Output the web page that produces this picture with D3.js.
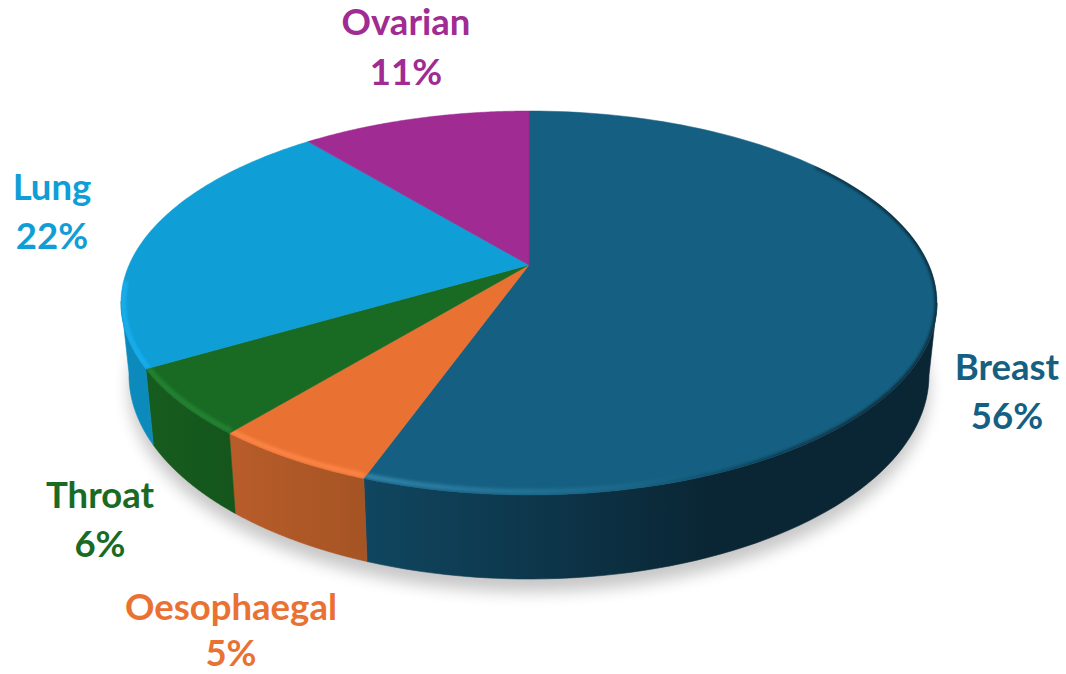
<!DOCTYPE html>
<html>
<head>
<meta charset="utf-8">
<script src="https://cdnjs.cloudflare.com/ajax/libs/d3/7.8.5/d3.min.js"></script>
<style>
html,body{margin:0;padding:0;background:#fff}
svg{display:block}
text{font-family:Lato,"Open Sans",sans-serif;font-weight:700}
</style>
</head>
<body>
<svg id="chart" width="1066" height="674"></svg>
<script>
// ---- data ----
const categories = ["Breast", "Oesophaegal", "Throat", "Lung", "Ovarian"];
const shares = [55.5, 5.49, 5.6, 22.49, 11.0];

// ---- style ----
const faceColors = ["#156082", "#E97132", "#196B24", "#0F9ED5", "#A02B93"];
const wallLeft = ["#104660", "#B85C2A", "#175C1F", "#0F8FC4", "#7a2070"];
const wallRight = ["#0A2533", "#A65424", "#14561C", "#0C8ABC", "#7a2070"];
const rimLight = ["#2F83A9", "#FB8444", "#238232", "#14ADEE", "#A02B93"];
const labelAt = [[1007, 380, 429], [231, 620, 666], [100, 508, 557], [52, 200, 249], [406, 35, 85]];

const W = 1066, H = 674;
const svg = d3.select("#chart");
const defs = svg.append("defs");

// perspective disc: unit circle mapped on itself so that the hub moves towards the back
const K = -0.198;
const project = (a, r) => {
  const u = r * Math.sin(a), v = -r * Math.cos(a), d = 1 + K * v;
  return [u * Math.sqrt(1 - K * K) / d, (v + K) / d];
};
const topX = d3.scaleLinear().domain([-1, 1]).range([121, 937]);
const topY = d3.scaleLinear().domain([-1, 1]).range([111, 495]);
const botX = d3.scaleLinear().domain([-1, 1]).range([129, 929]);
const botY = d3.scaleLinear().domain([-1, 1]).range([171, 579]);
const onTop = (a, r = 1) => { const p = project(a, r); return [topX(p[0]), topY(p[1])]; };
const onBot = (a, r = 1) => { const p = project(a, r); return [botX(p[0]), botY(p[1])]; };
// a point on the bevel: pulled in more vertically than horizontally
const onBevel = (a, sx, sy) => { const p = project(a, 1); return [topX(p[0] * sx), topY(p[1] * sy)]; };
const line = d3.line();
const steps = (a0, a1) => d3.range(0, 121).map(i => a0 + (a1 - a0) * i / 120);

const arcs = d3.pie().sort(null).value(d => d)(shares);

function blur(id, dev) {
  defs.append("filter").attr("id", id).attr("filterUnits", "userSpaceOnUse")
    .attr("x", 0).attr("y", 0).attr("width", W).attr("height", H)
    .append("feGaussianBlur").attr("stdDeviation", dev);
}
blur("soft", 8);
blur("b1", 1.5);
blur("b2", 1.8);

// ground shadow
svg.append("path")
  .attr("d", line(steps(0, 2 * Math.PI).map(a => { const p = onBot(a); return [p[0], p[1] + 13]; })) + "Z")
  .attr("fill", "#000").attr("opacity", 0.22).attr("filter", "url(#soft)");

// walls (front half of the disc only)
const g = svg.append("g");
arcs.forEach((d, i) => {
  const gid = "wall" + i;
  const lg = defs.append("linearGradient").attr("id", gid).attr("gradientUnits", "userSpaceOnUse")
    .attr("x1", i === 0 ? 365 : onTop(d.endAngle)[0]).attr("x2", i === 0 ? 720 : onTop(d.startAngle)[0])
    .attr("y1", 0).attr("y2", 0);
  lg.append("stop").attr("offset", 0).attr("stop-color", wallLeft[i]);
  lg.append("stop").attr("offset", 1).attr("stop-color", wallRight[i]);
  const angles = steps(d.startAngle, d.endAngle).filter(a => project(a, 1)[1] >= -0.01);
  if (angles.length < 2) return;
  const pts = angles.map(a => onTop(a)).concat(angles.slice().reverse().map(a => onBot(a)));
  g.append("path").attr("d", line(pts) + "Z").attr("fill", `url(#${gid})`)
    .attr("stroke", `url(#${gid})`).attr("stroke-width", 0.6);
});

// shaded edge of the largest slice: fades out along x towards the lit front
const darkGrad = defs.append("linearGradient").attr("id", "darkEdge").attr("gradientUnits", "userSpaceOnUse")
  .attr("x1", 640).attr("x2", 860).attr("y1", 0).attr("y2", 0);
darkGrad.append("stop").attr("offset", 0).attr("stop-color", "#0A2533").attr("stop-opacity", 0);
darkGrad.append("stop").attr("offset", 1).attr("stop-color", "#0A2533").attr("stop-opacity", 1);

// top faces with bevel
arcs.forEach((d, i) => {
  const rim = steps(d.startAngle, d.endAngle);
  const facePts = [onTop(0, 0)].concat(rim.map(a => onTop(a)));
  const facePath = line(facePts) + "Z";
  defs.append("clipPath").attr("id", "clip" + i).append("path").attr("d", facePath);
  const s = svg.append("g");
  s.append("path").attr("d", facePath).attr("fill", faceColors[i])
    .attr("stroke", faceColors[i]).attr("stroke-width", 0.5);
  const c = s.append("g").attr("clip-path", `url(#clip${i})`);

  if (i === 0) {
    const dark = rim.filter(a => project(a, 1)[1] > -0.72);
    c.append("path").attr("d", line(dark.map(a => onTop(a))))
      .attr("fill", "none").attr("stroke", "url(#darkEdge)").attr("stroke-width", 4)
      .attr("filter", "url(#b1)");
  }
  const lit = rim.filter(a => project(a, 1)[1] > (i === 3 ? -0.12 : 0));
  if (lit.length > 1) {
    const hid = "lit" + i;
    const hg = defs.append("linearGradient").attr("id", hid).attr("gradientUnits", "userSpaceOnUse")
      .attr("x1", i === 0 ? 365 : 100).attr("x2", i === 0 ? 690 : 400).attr("y1", 0).attr("y2", 0);
    hg.append("stop").attr("offset", 0).attr("stop-color", rimLight[i]).attr("stop-opacity", 1);
    hg.append("stop").attr("offset", 1).attr("stop-color", rimLight[i]).attr("stop-opacity", i === 0 ? 0 : 1);
    c.append("path").attr("d", line(lit.map(a => onBevel(a, 0.994, 0.982))))
      .attr("fill", "none").attr("stroke", `url(#${hid})`).attr("stroke-width", 5)
      .attr("filter", "url(#b2)");
  }
});

// labels
categories.forEach((name, i) => {
  const [x, y1, y2] = labelAt[i];
  const t = svg.append("g").attr("fill", faceColors[i]).attr("text-anchor", "middle").style("font-size", "36.5px");
  t.append("text").attr("x", x).attr("y", y1).text(name);
  t.append("text").attr("x", x).attr("y", y2).text(Math.round(shares[i]) + "%");
});
</script>
</body>
</html>
